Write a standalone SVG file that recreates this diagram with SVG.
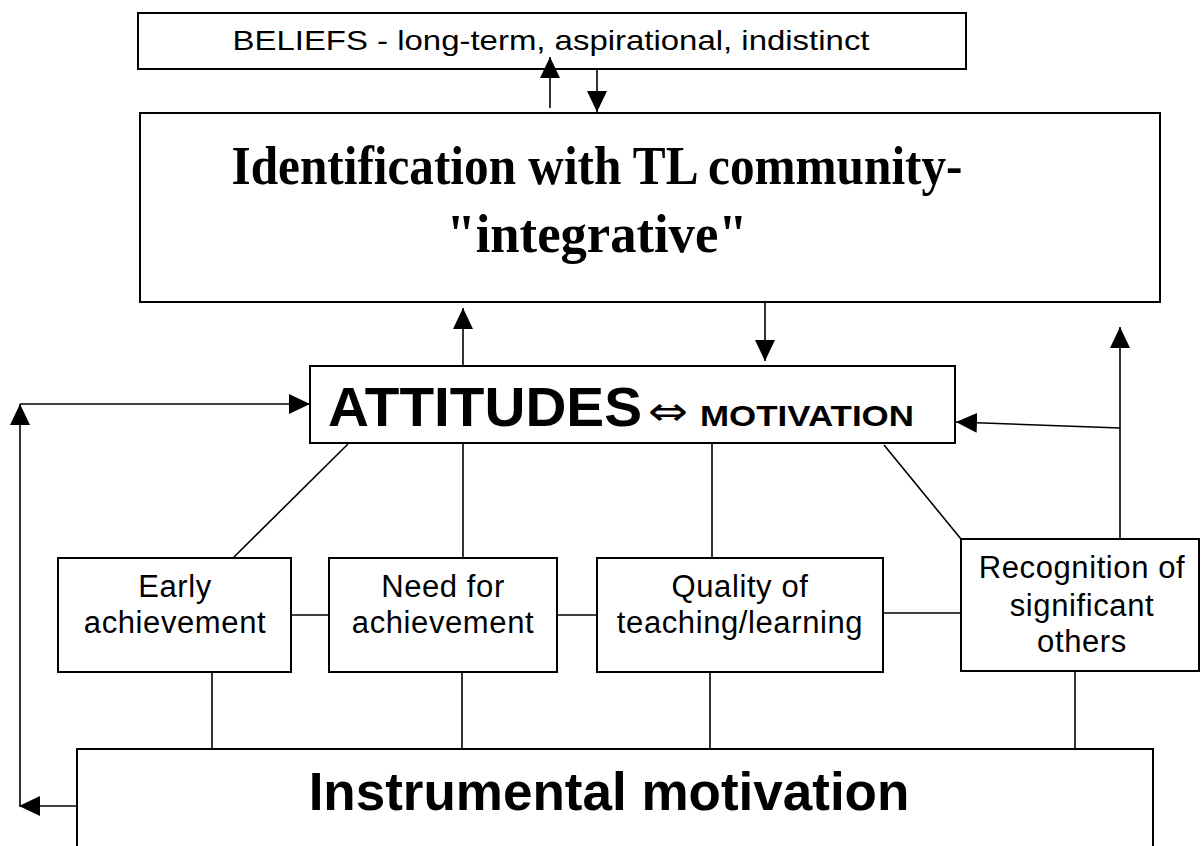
<svg xmlns="http://www.w3.org/2000/svg" width="1201" height="846" viewBox="0 0 1201 846">
<style>
.box{fill:#fff;stroke:#000;stroke-width:2}
.ln{fill:none;stroke:#000;stroke-width:1.6}
.sans{font-family:"Liberation Sans",Arial,sans-serif;fill:#000}
.serif{font-family:"Liberation Serif","Times New Roman",serif;fill:#000;font-weight:bold}
.small{font-size:31px;text-anchor:middle;letter-spacing:0.6px}
</style>
<defs>
<marker id="ah" markerUnits="userSpaceOnUse" markerWidth="22" markerHeight="22" viewBox="0 0 22 22" refX="21" refY="11" orient="auto">
<path d="M0,1 L21,11 L0,21 Z" fill="#000"/>
</marker>
</defs>
<rect width="1201" height="846" fill="#fff"/>

<g id="beliefs">
<rect class="box" x="138" y="13" width="828" height="56"/>
<text class="sans" x="551" y="50" font-size="28" text-anchor="middle" textLength="637" lengthAdjust="spacingAndGlyphs">BELIEFS - long-term, aspirational, indistinct</text>
</g>

<g id="identification">
<rect class="box" x="140" y="113" width="1020" height="189"/>
<text class="serif" x="597" y="184" font-size="54" text-anchor="middle" textLength="731" lengthAdjust="spacingAndGlyphs">Identification with TL community-</text>
<text class="serif" x="597" y="252" font-size="54" text-anchor="middle" textLength="301" lengthAdjust="spacingAndGlyphs">"integrative"</text>
</g>

<g id="attitudes">
<rect class="box" x="310" y="366" width="645" height="77"/>
<text class="sans" x="328" y="426" font-size="56" font-weight="bold" textLength="314" lengthAdjust="spacingAndGlyphs">ATTITUDES</text>
<text x="668" y="425" font-family="DejaVu Sans, sans-serif" font-size="40" text-anchor="middle" textLength="40" lengthAdjust="spacingAndGlyphs">⇔</text>
<text class="sans" x="700" y="426" font-size="30" font-weight="bold" textLength="214" lengthAdjust="spacingAndGlyphs">MOTIVATION</text>
</g>

<g id="early">
<rect class="box" x="58" y="558" width="233" height="114"/>
<text class="sans small" x="175" y="597">Early</text>
<text class="sans small" x="175" y="633">achievement</text>
</g>

<g id="need">
<rect class="box" x="329" y="558" width="228" height="114"/>
<text class="sans small" x="443" y="597">Need for</text>
<text class="sans small" x="443" y="633">achievement</text>
</g>

<g id="quality">
<rect class="box" x="597" y="558" width="286" height="114"/>
<text class="sans small" x="740" y="597">Quality of</text>
<text class="sans small" x="740" y="633">teaching/learning</text>
</g>

<g id="recognition">
<rect class="box" x="961" y="539" width="238" height="132"/>
<text class="sans small" x="1082" y="578">Recognition of</text>
<text class="sans small" x="1082" y="616">significant</text>
<text class="sans small" x="1082" y="652">others</text>
</g>

<g id="instrumental">
<path class="box" d="M77,860 L77,749 L1153,749 L1153,860"/>
<text class="sans" x="609" y="810" font-size="53" font-weight="bold" text-anchor="middle">Instrumental motivation</text>
</g>

<g id="connectors">
<line class="ln" x1="550" y1="108" x2="550" y2="57" marker-end="url(#ah)"/>
<line class="ln" x1="597" y1="69" x2="597" y2="112" marker-end="url(#ah)"/>
<line class="ln" x1="463" y1="366" x2="463" y2="308" marker-end="url(#ah)"/>
<line class="ln" x1="765" y1="302" x2="765" y2="361" marker-end="url(#ah)"/>
<line class="ln" x1="77" y1="806" x2="19" y2="806" marker-end="url(#ah)"/>
<line class="ln" x1="20" y1="806" x2="20" y2="404" marker-end="url(#ah)"/>
<line class="ln" x1="20" y1="404" x2="310" y2="404" marker-end="url(#ah)"/>
<line class="ln" x1="1120" y1="539" x2="1120" y2="327" marker-end="url(#ah)"/>
<line class="ln" x1="1120" y1="428" x2="956" y2="422" marker-end="url(#ah)"/>
<line class="ln" x1="348" y1="444" x2="233" y2="558"/>
<line class="ln" x1="463" y1="443" x2="463" y2="558"/>
<line class="ln" x1="712" y1="443" x2="712" y2="558"/>
<line class="ln" x1="884" y1="445" x2="961" y2="539"/>
<line class="ln" x1="291" y1="615" x2="329" y2="615"/>
<line class="ln" x1="557" y1="615" x2="597" y2="615"/>
<line class="ln" x1="883" y1="613" x2="961" y2="613"/>
<line class="ln" x1="212" y1="672" x2="212" y2="749"/>
<line class="ln" x1="462" y1="672" x2="462" y2="749"/>
<line class="ln" x1="710" y1="672" x2="710" y2="749"/>
<line class="ln" x1="1075" y1="671" x2="1075" y2="749"/>
</g>
</svg>
